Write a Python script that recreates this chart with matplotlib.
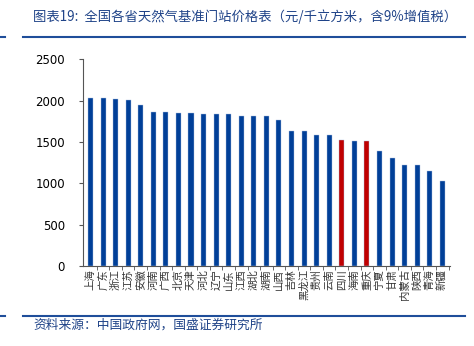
import matplotlib.pyplot as plt
from matplotlib.lines import Line2D
from matplotlib.ticker import FixedLocator

plt.rcParams['font.family'] = ['Noto Sans CJK SC', 'DejaVu Sans']

provinces = ["上海", "广东", "浙江", "江苏", "安徽", "河南", "广西", "北京", "天津",
             "河北", "辽宁", "山东", "江西", "湖北", "湖南", "山西", "吉林", "黑龙江",
             "贵州", "云南", "四川", "海南", "重庆", "宁夏", "甘肃", "内蒙古", "陕西",
             "青海", "新疆"]
prices = [2032, 2032, 2020, 2008, 1943, 1859, 1859, 1851, 1851,
          1835, 1835, 1835, 1815, 1815, 1815, 1767, 1635, 1635,
          1587, 1587, 1527, 1515, 1515, 1386, 1305, 1221, 1221,
          1149, 1024]
highlight = ["四川", "重庆"]

title = "图表19:  全国各省天然气基准门站价格表（元/千立方米，含9%增值税）"
source = "资料来源：中国政府网，国盛证券研究所"

blue = "#003F98"
red = "#C00000"
line_blue = "#1F4E9A"


def main():
    fig = plt.figure(figsize=(4.74, 3.46), dpi=100)
    ax = fig.add_axes([0.175, 0.231, 0.774, 0.598])

    x = list(range(len(provinces)))
    colors = [red if p in highlight else blue for p in provinces]
    ax.bar(x, prices, width=0.4, color=colors, edgecolor="#A9BEE0", linewidth=0.3)

    ax.set_ylim(0, 2500)
    ax.set_yticks(range(0, 2501, 500))
    ax.set_xlim(-0.6, len(provinces) - 0.4)
    ax.set_xticks(x)
    ax.set_xticklabels(provinces, rotation=90, fontsize=7.5, color="#333333")
    ax.tick_params(axis="x", length=0, pad=2)
    ax.xaxis.set_minor_locator(FixedLocator([i + 0.5 for i in x]))
    ax.tick_params(axis="x", which="minor", length=3, direction="out", color="#555555")
    ax.tick_params(axis="y", length=3, direction="out", labelsize=8.5, color="#555555",
                   pad=10)
    for lab in ax.get_yticklabels():
        lab.set_fontfamily("DejaVu Sans")
    for side in ["top", "right"]:
        ax.spines[side].set_visible(False)
    ax.spines["left"].set_color("#555555")
    ax.spines["bottom"].set_color("#555555")

    fig.text(0.07, 0.951, title, fontsize=9.6, color="#1F4388", style="italic",
             va="center", ha="left")
    fig.text(0.07, 0.06, source, fontsize=9.2, color="#1F4388", style="italic",
             va="center", ha="left")
    for yy in [1 - 37 / 346, 1 - 316 / 346]:
        fig.add_artist(Line2D([23 / 474, 465 / 474], [yy, yy], color=line_blue, lw=1.5))
        fig.add_artist(Line2D([0, 5 / 474], [yy, yy], color=line_blue, lw=1.5))

    fig.savefig("out.png", dpi=100)


if __name__ == "__main__":
    main()
